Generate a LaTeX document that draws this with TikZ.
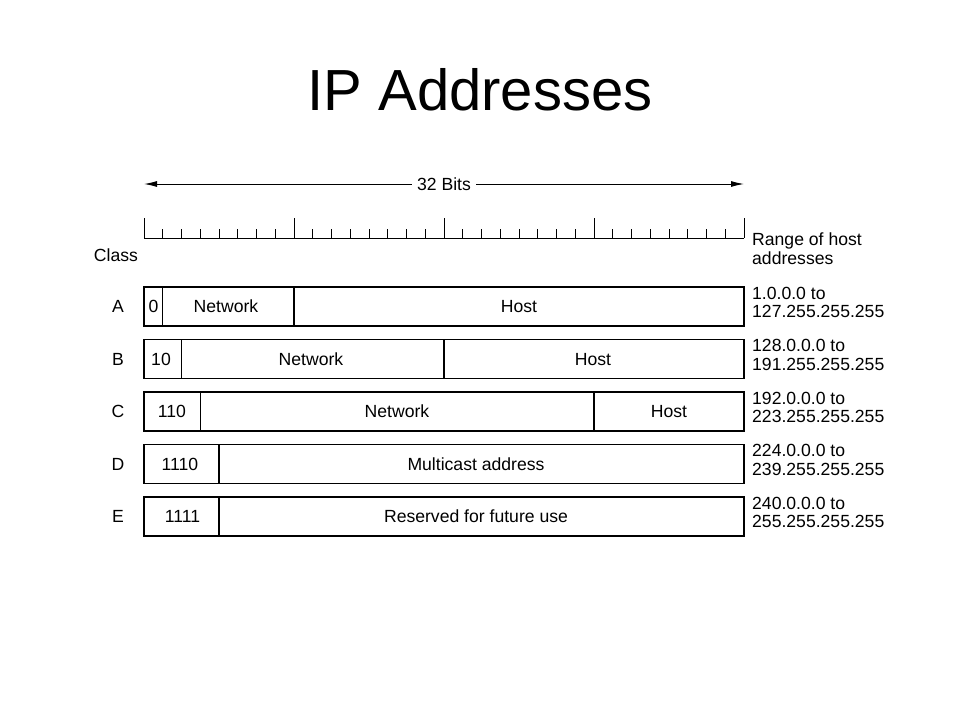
\documentclass[tikz,border=0pt]{standalone}
\usepackage{fontspec}
\setmainfont{Liberation Sans}
\usetikzlibrary{arrows.meta}

\begin{document}
\begin{tikzpicture}[x=1pt,y=-1pt,
  field/.style={draw, line width=1.2pt},
  ruler/.style={line width=1pt},
  lbl/.style={font=\fontsize{17.6}{18.3}\selectfont, inner sep=0pt, text height=12.6pt, text depth=0pt},
  hostrange/.style={font=\fontsize{17.6}{18.3}\selectfont, inner sep=0pt, anchor=north west, align=left}]
  \useasboundingbox[fill=white] (0,0) rectangle (960,720);

  % Title
  \node[font=\fontsize{58}{60}\selectfont, anchor=base, inner sep=0pt] (title) at (480,110) {IP Addresses};

  % 32 bits arrow
  \coordinate (bitsL) at (144,184);
  \coordinate (bitsR) at (744,184);
  \node[lbl, inner sep=5pt] (bits) at (444,184) {32 Bits};
  \draw[line width=1pt, -{Latex[length=13pt,width=6pt]}] (bits) -- (bitsL);
  \draw[line width=1pt, -{Latex[length=13pt,width=6pt]}] (bits) -- (bitsR);

  % Ruler with one tick per bit
  \draw[ruler] (144,238) -- (744,238);
  \foreach \i in {1,...,31}
    \draw[ruler] ({144+18.75*\i},238) -- ++(0,-9);
  \foreach \x in {144,294,444,594,744}
    \draw[ruler] (\x,238) -- (\x,218);

  % Headings
  \node[lbl] (class) at (116,255) {Class};
  \node[hostrange] (rangehead) at (752,233) {Range of host\\addresses};

  % Class A
  \node[lbl] (clsA) at (118,306.5) {A};
  \draw[field] (144,287) rectangle (744,326);
  \draw[field] (162.75,287) -- (162.75,326);
  \draw[field] (294,287) -- (294,326);
  \node[lbl] (bitA) at (153.4,306.5) {0};
  \node[lbl] (netA) at (226,306.5) {Network};
  \node[lbl] (hostA) at (519,306.5) {Host};
  \node[hostrange] (rangeA) at (752,287) {1.0.0.0 to\\127.255.255.255};

  % Class B
  \node[lbl] (clsB) at (118,359) {B};
  \draw[field] (144,339.5) rectangle (744,378.5);
  \draw[field] (181.5,339.5) -- (181.5,378.5);
  \draw[field] (444,339.5) -- (444,378.5);
  \node[lbl] (bitB) at (161,359) {10};
  \node[lbl] (netB) at (311,359) {Network};
  \node[lbl] (hostB) at (593,359) {Host};
  \node[hostrange] (rangeB) at (752,339.5) {128.0.0.0 to\\191.255.255.255};

  % Class C
  \node[lbl] (clsC) at (118,411.5) {C};
  \draw[field] (144,392) rectangle (744,431);
  \draw[field] (200.25,392) -- (200.25,431);
  \draw[field] (594,392) -- (594,431);
  \node[lbl] (bitC) at (172,411.5) {110};
  \node[lbl] (netC) at (397,411.5) {Network};
  \node[lbl] (hostC) at (669,411.5) {Host};
  \node[hostrange] (rangeC) at (752,392) {192.0.0.0 to\\223.255.255.255};

  % Class D
  \node[lbl] (clsD) at (118,464) {D};
  \draw[field] (144,444.5) rectangle (744,483.5);
  \draw[field] (219,444.5) -- (219,483.5);
  \node[lbl] (bitD) at (180,464) {1110};
  \node[lbl] (multiD) at (476,464) {Multicast address};
  \node[hostrange] (rangeD) at (752,444.5) {224.0.0.0 to\\239.255.255.255};

  % Class E
  \node[lbl] (clsE) at (118,516.5) {E};
  \draw[field] (144,497) rectangle (744,536);
  \draw[field] (219,497) -- (219,536);
  \node[lbl] (bitE) at (182.5,516.5) {1111};
  \node[lbl] (resE) at (476,516.5) {Reserved for future use};
  \node[hostrange] (rangeE) at (752,497) {240.0.0.0 to\\255.255.255.255};
\end{tikzpicture}
\end{document}
